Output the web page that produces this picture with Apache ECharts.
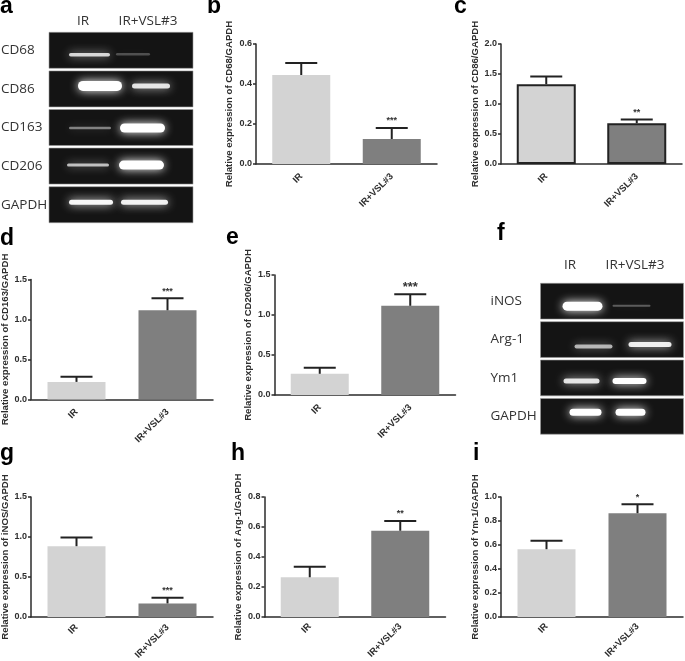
<!DOCTYPE html>
<html><head><meta charset="utf-8">
<style>html,body{margin:0;padding:0;background:#fff}#c{width:685px;height:661px;filter:blur(0.4px)}</style>
<script src="https://cdn.jsdelivr.net/npm/echarts@6/dist/echarts.min.js"></script>
</head><body><div id="c"></div>
<script>
// ---------- data ----------
const groups = ['IR', 'IR+VSL#3'];
const chartNames = ['CD68', 'CD86', 'CD163', 'CD206', 'iNOS', 'Arg-1', 'Ym-1'];
const cd68Mean = [0.445, 0.125],  cd68Upper = [0.505, 0.18];
const cd86Mean = [1.33, 0.68],    cd86Upper = [1.46, 0.74];
const cd163Mean = [0.22, 1.115],  cd163Upper = [0.285, 1.265];
const cd206Mean = [0.265, 1.115], cd206Upper = [0.34, 1.26];
const inosMean = [0.885, 0.17],   inosUpper = [0.995, 0.24];
const arg1Mean = [0.265, 0.575],  arg1Upper = [0.335, 0.64];
const ym1Mean = [0.565, 0.865],   ym1Upper = [0.635, 0.94];
const cd68Stars = ['', '***'], cd86Stars = ['', '**'], cd163Stars = ['', '***'], cd206Stars = ['', '***'];
const inosStars = ['', '***'], arg1Stars = ['', '**'], ym1Stars = ['', '*'];
const yMaxes = [0.6, 2.0, 1.5, 1.5, 1.5, 0.8, 1.0];
const yIntervals = [0.2, 0.5, 0.5, 0.5, 0.5, 0.2, 0.2];
const gelARows = ['CD68', 'CD86', 'CD163', 'CD206', 'GAPDH'];
const gelAIntensity = [[0.8, 0.25], [1, 0.85], [0.45, 1], [0.7, 1], [0.95, 0.92]];
const gelFRows = ['iNOS', 'Arg-1', 'Ym1', 'GAPDH'];
const gelFIntensity = [[1, 0.3], [0.65, 0.9], [0.85, 1], [1, 1]];
const panelLetters = ['a', 'b', 'c', 'd', 'e', 'f', 'g', 'h', 'i'];

// ---------- layout ----------
const means = [cd68Mean, cd86Mean, cd163Mean, cd206Mean, inosMean, arg1Mean, ym1Mean];
const uppers = [cd68Upper, cd86Upper, cd163Upper, cd206Upper, inosUpper, arg1Upper, ym1Upper];
const stars = [cd68Stars, cd86Stars, cd163Stars, cd206Stars, inosStars, arg1Stars, ym1Stars];
// left, top, width, height
const chartBoxes = [
  [256, 44, 181, 120], [501, 44, 181, 120], [31, 279.5, 182, 120], [274.5, 275, 181, 120],
  [31, 497, 182, 120], [264.5, 497, 181, 120], [501, 497, 182, 120]];
const nameGaps = [21.5, 20.5, 20.5, 21, 20.5, 21.5, 19.5];
const labelMargins = [11, 11, 11, 11, 9, 8, 8];
const borders = [false, true, false, false, false, false, false];
const starSizes = [9, 9, 9, 13, 9, 9, 9];
const barColors = ['#d3d3d3', '#7f7f7f'];
const ink = '#2b2b2b';
const armFont = '"Liberation Sans", Arial, sans-serif';
const gelFont = '"Open Sans", sans-serif';
const letterPos = [[0, 18], [207, 18], [454, 18], [0, 250], [226, 249], [497, 245], [0, 465], [231, 465], [473, 465]];
// per row, per lane: [left, width, height, dy] relative to the panel
const gelABands = [
  [[20, 41, 3.5, 4.5], [67, 34, 2.5, 4]],
  [[29, 44, 10, -3], [83, 38, 5, -3]],
  [[20, 42, 2.5, 0.5], [71, 45, 9, 0.5]],
  [[18, 42, 3, -1], [70, 45, 9, -1]],
  [[20, 44, 5, -2.5], [72, 47, 5, -2.5]]];
const gelFBands = [
  [[22, 40, 9, 5], [72, 38, 2, 4.5]],
  [[34, 38, 4, 7], [88, 43, 5, 5]],
  [[23, 36, 5, 3], [72, 34, 6, 3]],
  [[29, 32, 7, -4], [75, 30, 7, -4]]];
const gelBoxes = [[49, 31, 144, 193], [540.5, 282, 143, 153.5]];
const gelLabelMargin = [48, 50];

// ---------- option ----------
const grid = [], xAxis = [], yAxis = [], series = [], graphic = [];

chartNames.forEach((nm, i) => {
  const b = chartBoxes[i];
  grid.push({left: b[0], top: b[1], width: b[2], height: b[3], outerBoundsMode: 'none'});
  xAxis.push({
    type: 'category', gridIndex: i, data: groups,
    axisLine: {lineStyle: {color: ink, width: 1.5}},
    axisTick: {alignWithLabel: true, length: 4, lineStyle: {color: ink, width: 1.5}},
    axisLabel: {rotate: 45, interval: 0, margin: labelMargins[i], fontFamily: armFont, fontWeight: 'bold', fontSize: 9.4, color: '#2e2e2e'}
  });
  yAxis.push({
    type: 'value', gridIndex: i, min: 0, max: yMaxes[i], interval: yIntervals[i],
    name: 'Relative expression of ' + nm + '/GAPDH', nameLocation: 'middle', nameGap: nameGaps[i],
    nameTextStyle: {fontFamily: armFont, fontWeight: 'bold', fontSize: 9.6, color: '#2e2e2e'},
    splitLine: {show: false},
    axisLine: {show: true, lineStyle: {color: ink, width: 1.5}},
    axisTick: {show: true, length: 3, lineStyle: {color: ink, width: 1.5}},
    axisLabel: {margin: 4, fontFamily: armFont, fontWeight: 'bold', fontSize: 9, color: '#2e2e2e',
      formatter: v => v.toFixed(1)}
  });
  series.push({
    type: 'bar', xAxisIndex: i, yAxisIndex: i, barWidth: borders[i] ? 59 : 58, silent: true,
    data: means[i].map((v, k) => ({value: v, itemStyle: {
      color: barColors[k],
      borderColor: borders[i] ? '#222' : 'transparent', borderWidth: borders[i] ? 2 : 0}}))
  });
  series.push({
    type: 'custom', xAxisIndex: i, yAxisIndex: i, silent: true, z: 3,
    encode: {x: 0, y: 1},
    data: uppers[i].map((u, k) => [k, u, means[i][k]]),
    renderItem: (params, api) => {
      const top = api.coord([api.value(0), api.value(1)]);
      const base = api.coord([api.value(0), api.value(2)]);
      const st = {stroke: '#222', lineWidth: 2};
      const star = stars[i][params.dataIndex];
      const kids = [
        {type: 'line', shape: {x1: top[0], y1: top[1], x2: base[0], y2: base[1]}, style: st},
        {type: 'line', shape: {x1: top[0] - 16, y1: top[1], x2: top[0] + 16, y2: top[1]}, style: st}];
      if (star) kids.push({type: 'text', x: top[0], y: top[1] - 7, style: {
        text: star, align: 'center', verticalAlign: 'middle', fill: '#333',
        font: 'bold ' + starSizes[i] + 'px ' + armFont}});
      return {type: 'group', children: kids};
    }
  });
});

function addGel(rows, intensity, bands, box, margin) {
  const idx = grid.length;
  grid.push({left: box[0], top: box[1], width: box[2], height: box[3], outerBoundsMode: 'none'});
  xAxis.push({type: 'value', gridIndex: idx, min: 0, max: 1, show: false});
  yAxis.push({
    type: 'category', gridIndex: idx, data: rows, inverse: true,
    axisLine: {show: false}, axisTick: {show: false},
    axisLabel: {margin: margin, align: 'left', fontFamily: gelFont, fontSize: 13.5, color: '#333'}
  });
  const bandData = [];
  intensity.forEach((r, ri) => r.forEach((v, li) => bandData.push([li, ri, v])));
  series.push({
    type: 'custom', xAxisIndex: idx, yAxisIndex: idx, silent: true, z: 1,
    encode: {x: 0, y: 1},
    data: rows.map((_, ri) => [0, ri]),
    renderItem: (params, api) => {
      const c = api.coord([0, api.value(1)]);
      const h = api.size([0, 1])[1] - 2.6;
      return {type: 'rect',
        shape: {x: params.coordSys.x, y: c[1] - h / 2, width: params.coordSys.width, height: h},
        style: {fill: '#141414', stroke: '#9a9a9a', lineWidth: 0.6}};
    }
  });
  series.push({
    type: 'custom', xAxisIndex: idx, yAxisIndex: idx, silent: true, z: 2,
    encode: {x: 0, y: 1},
    data: bandData,
    renderItem: (params, api) => {
      const li = api.value(0), ri = api.value(1), v = api.value(2);
      const c = api.coord([0, ri]);
      const bb = bands[ri][li];
      return {type: 'rect',
        shape: {x: params.coordSys.x + bb[0], y: c[1] + bb[3] - bb[2] / 2, width: bb[1], height: bb[2], r: bb[2] / 2},
        style: {fill: 'rgba(255,255,255,' + v + ')',
          shadowColor: 'rgba(255,255,255,' + v + ')', shadowBlur: 10}};
    }
  });
}
addGel(gelARows, gelAIntensity, gelABands, gelBoxes[0], gelLabelMargin[0]);
addGel(gelFRows, gelFIntensity, gelFBands, gelBoxes[1], gelLabelMargin[1]);

panelLetters.forEach((t, i) => graphic.push({type: 'text', x: letterPos[i][0], y: letterPos[i][1],
  style: {text: t, fill: '#000', font: 'bold 23px ' + armFont, verticalAlign: 'bottom'}}));
[[83, 21], [148, 21], [570, 265], [635, 265]].forEach((p, i) => graphic.push({type: 'text', x: p[0], y: p[1],
  style: {text: groups[i % 2], fill: '#333', font: '13.5px ' + gelFont, align: 'center', verticalAlign: 'middle'}}));

const chart = echarts.init(document.getElementById('c'), null, {renderer: 'canvas'});
chart.setOption({animation: false, backgroundColor: '#fff', grid, xAxis, yAxis, series, graphic});
</script></body></html>
